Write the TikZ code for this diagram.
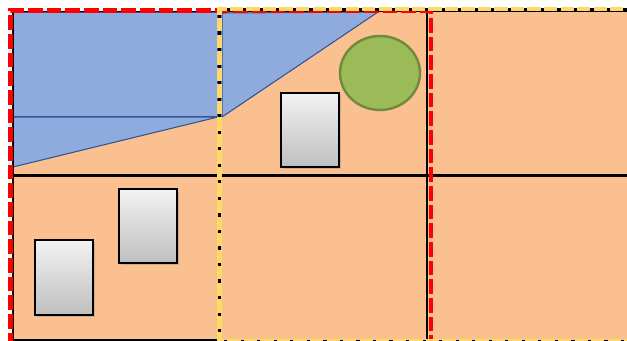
\documentclass[tikz,border=0pt]{standalone}
\usetikzlibrary{shadows}
\definecolor{peach}{HTML}{FAC090}
\definecolor{bluefill}{HTML}{8FAADC}
\definecolor{blueline}{HTML}{2F5597}
\definecolor{greenfill}{HTML}{9BBB59}
\definecolor{greenline}{HTML}{71893F}
\definecolor{yel}{HTML}{FFD966}
\definecolor{graytop}{HTML}{F2F2F2}
\definecolor{graybot}{HTML}{BFBFBF}
\tikzset{
  bluearea/.style={fill=bluefill, draw=blueline, line width=0.8pt, line join=round},
  greenarea/.style={fill=greenfill, draw=greenline, line width=1.8pt},
  graybox/.style={top color=graytop, bottom color=graybot, draw=black, line width=1.1pt,
     drop shadow={shadow xshift=1.6pt, shadow yshift=-1.6pt, opacity=0.35}},
  gridline/.style={draw=black, line width=1.8pt},
  reddash/.style={draw=red, line width=3.4pt, dash pattern=on 11pt off 3pt},
  yelbase/.style={draw=black, line width=1.6pt},
  yeldash/.style={draw=yel, line width=3.2pt, dash pattern=on 10pt off 2.4pt},
}
\begin{document}
\begin{tikzpicture}[x=0.75pt, y=-0.75pt]
\useasboundingbox (0,0) rectangle (627,341);
\fill[white] (0,0) rectangle (627,341);
% cells
\fill[peach] (13,11) rectangle (640,345);
% blue shapes
\path[bluearea] (13,12) rectangle (218,117);
\path[bluearea] (13,117) -- (218,117) -- (13,167) -- cycle;
\path[bluearea] (222,13) -- (378,12) -- (222,117) -- cycle;
% green ellipse
\path[greenarea] (380,73) ellipse [x radius=40, y radius=37];
% gray boxes
\path[graybox] (281,93) rectangle (339,167);
\path[graybox] (119,189) rectangle (177,263);
\path[graybox] (35,240) rectangle (93,315);
% grid lines
\draw[gridline] (13,11) -- (13,345);
\draw[gridline, line width=2pt] (427,11) -- (427,345);
\draw[gridline] (12,175.7) -- (640,175.7);
\draw[gridline] (12,340) -- (220,340);
\draw[draw=black, line width=1pt] (13,11.5) -- (640,11.5);
% red dashed frame
\draw[reddash] (431,350) -- (431,10.3) -- (10.3,10.3) -- (10.3,350);
% yellow dashed frame with black underlay
\draw[yelbase] (640,9.5) -- (219.5,9.5) -- (219.5,341) -- (640,341);
\draw[yeldash] (640,8.8) -- (219.5,8.8) -- (219.5,341) -- (640,341);
\end{tikzpicture}
\end{document}
